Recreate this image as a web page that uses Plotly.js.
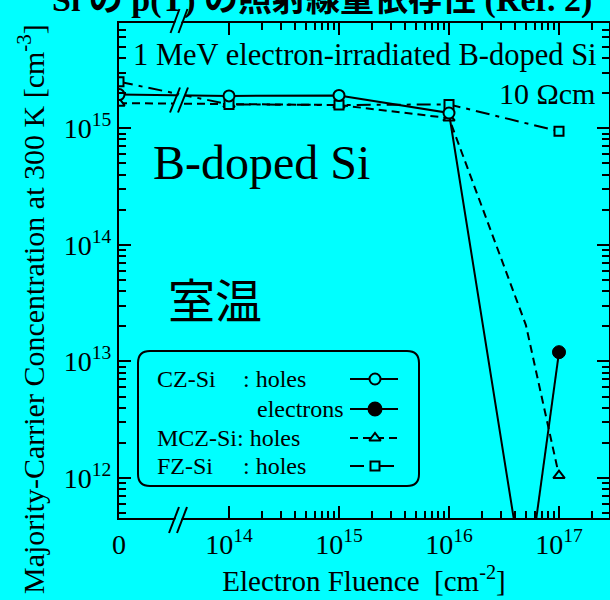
<!DOCTYPE html>
<html>
<head>
<meta charset="utf-8">
<script src="https://cdn.plot.ly/plotly-3.0.1.min.js"></script>
<style>html,body{margin:0;padding:0;background:#00ffff;}#chart{width:610px;height:600px;}</style>
</head>
<body>
<div id="chart"></div>
<script>
// ---- data ----
const czFluence      = [0, 1e14, 1e15, 1e16, 5e16];
const czHoles        = [1.94e15, 1.89e15, 1.91e15, 1.35e15, 1e11];
const czElecFluence  = [5e16, 1e17];
const czElectrons    = [1e11, 1.2e13];
const mczFluence     = [0, 1e14, 1e15, 1e16, 5e16, 1e17];
const mczHoles       = [1.64e15, 1.6e15, 1.58e15, 1.22e15, 2.05e13, 1.05e12];
const fzFluence      = [0, 1e14, 1e15, 1e16, 1e17];
const fzHoles        = [2.5e15, 1.6e15, 1.58e15, 1.6e15, 9.4e14];

const xTickVals  = [1e13, 1e14, 1e15, 1e16, 1e17];
const xTickText  = ['0', '10<sup>14</sup>', '10<sup>15</sup>', '10<sup>16</sup>', '10<sup>17</sup>'];
const yTickVals  = [1e12, 1e13, 1e14, 1e15];
const yTickText  = ['10<sup>12</sup>', '10<sup>13</sup>', '10<sup>14</sup>', '10<sup>15</sup>'];

const ZERO_AT = 1e13; // position where the broken axis shows "0"
const xp = a => a.map(v => v === 0 ? ZERO_AT : v);

// minor ticks (axis decoration)
const xMinor = [];
[1e14, 1e15, 1e16, 1e17].forEach(d => { for (let k = 2; k <= 9; k++) xMinor.push(k * d); });
const yMinor = [];
[1e11, 1e12, 1e13, 1e14, 1e15].forEach(d => { for (let k = 2; k <= 9; k++) yMinor.push(k * d); });

// ---- geometry ----
const W = 610, H = 600, L = 119, R = 609, T = 23, B = 518;
const px = p => (p - L) / (R - L);
const py = p => (B - p) / (B - T);
const SERIF = 'Liberation Serif, Times New Roman, serif';
const CJK = 'Noto Sans CJK JP, sans-serif';
const BG = '#00ffff';

const traces = [
  { x: xp(mczFluence), y: mczHoles, mode: 'lines+markers', name: 'MCZ-Si holes',
    line: { color: 'black', width: 2, dash: '8px,5px' },
    marker: { symbol: 'triangle-up', size: [10,10,10,10,0,10], color: BG, opacity: 1, line: { color: 'black', width: 2 } } },
  { x: xp(fzFluence), y: fzHoles, mode: 'lines+markers', name: 'FZ-Si holes',
    line: { color: 'black', width: 2, dash: '14px,6px,4px,6px' },
    marker: { symbol: 'square', size: 9, color: BG, opacity: 1, line: { color: 'black', width: 2 } } },
  { x: xp(czFluence), y: czHoles, mode: 'lines+markers', name: 'CZ-Si holes',
    line: { color: 'black', width: 2 },
    marker: { symbol: 'circle', size: 11, color: BG, opacity: 1, line: { color: 'black', width: 2 } } },
  { x: xp(czElecFluence), y: czElectrons, mode: 'lines+markers', name: 'CZ-Si electrons',
    line: { color: 'black', width: 2 },
    marker: { symbol: 'circle', size: [0, 13], color: '#000000', opacity: 1, line: { color: '#000000', width: 1 } } }
];

// legend samples on a pixel-scaled overlay axis
const legRows = [
  { y: 379, dash: 'solid', sym: 'circle', size: 11, fill: BG },
  { y: 409, dash: 'solid', sym: 'circle', size: 13, fill: '#000000' },
  { y: 438, dash: '8px,5px', sym: 'triangle-up', size: 10, fill: BG },
  { y: 466, dash: '14px,6px,4px,6px', sym: 'square', size: 9, fill: BG }
];
legRows.forEach(r => {
  traces.push({ x: [350, 375, 398], y: [r.y, r.y, r.y], xaxis: 'x2', yaxis: 'y2', mode: 'lines+markers',
    showlegend: false, hoverinfo: 'skip',
    line: { color: 'black', width: 2, dash: r.dash },
    marker: { symbol: r.sym, size: [0, r.size, 0], color: r.fill, opacity: 1, line: { color: 'black', width: 2 } } });
});

const ann = (text, x, y, size, opts) => Object.assign({
  text, x, y, xref: 'paper', yref: 'paper', showarrow: false,
  font: { family: SERIF, size, color: 'black' }, xanchor: 'left', yanchor: 'middle'
}, opts || {});

const annotations = [
  ann('<b>Si の p(T) の照射線量依存性 (Ref. 2)</b>', px(322), py(21), 34, { xanchor: 'center', yanchor: 'bottom', font: { family: SERIF + ', Noto Sans CJK JP', size: 34, color: 'black' } }),
  ann('1 MeV electron-irradiated B-doped Si', px(599), py(55), 30.5, { xanchor: 'right' }),
  ann('10 Ωcm', px(597), py(93), 30, { xanchor: 'right' }),
  ann('B-doped Si', px(151), py(162), 48),
  ann('室温', px(166), py(297), 47, { font: { family: CJK, size: 47, color: 'black' } }),
  ann('CZ-Si', px(155), py(379), 24),
  ann(': holes', px(241), py(379), 24),
  ann('electrons', px(346), py(409), 24, { xanchor: 'right' }),
  ann('MCZ-Si: holes', px(155), py(438), 24),
  ann('FZ-Si', px(155), py(466), 24),
  ann(': holes', px(241), py(466), 24),
  ann('Majority-Carrier Concentration at 300 K [cm<sup>-3</sup>]', px(31), py(309), 30, { xanchor: 'center', textangle: -90 })
];

// break marks
const shapes = [];
function brk(cx, cy, h, dx) {
  const y0 = cy + h / 2, y1 = cy - h / 2;
  const a0 = cx - 4 - dx / 2, b0 = cx + 4 - dx / 2;
  // cyan gap between the slashes
  shapes.push({ type: 'path', xref: 'paper', yref: 'paper', layer: 'above',
    path: `M ${px(a0 + 1)} ${py(y0 - 3)} L ${px(b0 - 1)} ${py(y0 - 3)} L ${px(b0 - 1 + dx)} ${py(y1 + 3)} L ${px(a0 + 1 + dx)} ${py(y1 + 3)} Z`,
    fillcolor: BG, line: { width: 0 } });
  [a0, b0].forEach(s => shapes.push({ type: 'line', xref: 'paper', yref: 'paper', layer: 'above',
    x0: px(s), y0: py(y0), x1: px(s + dx), y1: py(y1), line: { color: 'black', width: 2 } }));
}
brk(179, 21, 24, 9);
brk(178, 520, 26, 10);
brk(179, 100, 25, 10);

// rounded legend box
shapes.push({ type: 'path', xref: 'x2', yref: 'y2', layer: 'above',
  path: 'M 150 351 L 407 351 Q 419 351 419 363 L 419 474 Q 419 486 407 486 L 150 486 Q 138 486 138 474 L 138 363 Q 138 351 150 351 Z',
  line: { color: 'black', width: 2 } });

const axisCommon = {
  showline: true, linewidth: 2, linecolor: 'black', mirror: 'allticks',
  ticks: 'inside', ticklen: 12, tickwidth: 2, tickcolor: 'black',
  showgrid: false, zeroline: false, tickmode: 'array',
  tickfont: { family: SERIF, size: 28, color: 'black' }
};

const layout = {
  width: W, height: H,
  margin: { l: L, r: W - R, t: T, b: H - B },
  paper_bgcolor: BG, plot_bgcolor: BG, showlegend: false,
  xaxis: Object.assign({}, axisCommon, {
    type: 'log', range: [13, 17.4545], tickvals: xTickVals, ticktext: xTickText,
    minor: { tickmode: 'array', tickvals: xMinor, ticks: 'inside', ticklen: 7, tickwidth: 2, tickcolor: 'black', showgrid: false },
    title: { text: 'Electron Fluence \u00a0[cm<sup>-2</sup>]', font: { family: SERIF, size: 29, color: 'black' }, standoff: 12 }
  }),
  yaxis: Object.assign({}, axisCommon, {
    type: 'log', range: [11.657, 15.902], tickvals: yTickVals, ticktext: yTickText,
    minor: { tickmode: 'array', tickvals: yMinor, ticks: 'inside', ticklen: 7, tickwidth: 2, tickcolor: 'black', showgrid: false }
  }),
  xaxis2: { overlaying: 'x', anchor: 'y2', range: [L, R], visible: false, fixedrange: true },
  yaxis2: { overlaying: 'y', anchor: 'x2', range: [B, T], visible: false, fixedrange: true },
  annotations, shapes
};

Plotly.newPlot('chart', traces, layout, { staticPlot: true, displayModeBar: false });
</script>
</body>
</html>
